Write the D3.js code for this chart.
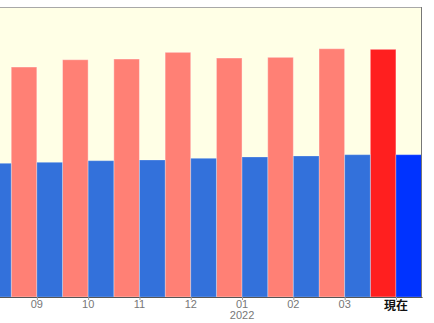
<!DOCTYPE html>
<html><head><meta charset="utf-8">
<script src="https://cdn.jsdelivr.net/npm/d3@7"></script>
<style>html,body{margin:0;padding:0;background:#fff;}svg{display:block;}</style>
</head><body>
<div id="chart"></div>
<script>
const categories = ["08","09","10","11","12","01","02","03","現在"];
const redValues  = [null, 230, 237.3, 238, 244.7, 239, 239.7, 248.3, 247.7];
const blueValues = [133.7, 134.7, 136.3, 137, 138.7, 140, 141, 142.3, 142.3];
const subLabels  = {"01": "2022"};

const W = 434, H = 323;
const plot = {left: 0, right: 421, top: 7, bottom: 297};

const svg = d3.select("#chart").append("svg").attr("width", W).attr("height", H);

const x = d3.scaleBand().domain(categories).range([421.6 - 51.3 * 9, 421.6]).padding(0);
const y = d3.scaleLinear().domain([0, 290]).range([plot.bottom, plot.top]);

svg.append("defs").append("clipPath").attr("id", "clip")
  .append("rect").attr("x", plot.left).attr("y", plot.top)
  .attr("width", plot.right - plot.left).attr("height", plot.bottom - plot.top);

svg.append("rect").attr("x", plot.left).attr("y", plot.top)
  .attr("width", plot.right - plot.left).attr("height", plot.bottom - plot.top)
  .attr("fill", "#FFFFE6");

const g = svg.append("g").attr("clip-path", "url(#clip)");
const half = x.bandwidth() / 2;
const last = categories[categories.length - 1];

g.selectAll("rect.red").data(categories.map((c, i) => ({c, v: redValues[i]})).filter(d => d.v != null))
  .enter().append("rect").attr("class", "red")
  .attr("x", d => x(d.c)).attr("width", half)
  .attr("y", d => y(d.v)).attr("height", d => y(0) - y(d.v))
  .attr("fill", d => d.c === last ? "#FF1F1F" : "#FF8075")
  .attr("stroke", "rgba(255,255,255,0.4)").attr("stroke-width", 1);

g.selectAll("rect.blue").data(categories.map((c, i) => ({c, v: blueValues[i]})).filter(d => d.v != null))
  .enter().append("rect").attr("class", "blue")
  .attr("x", d => x(d.c) + half).attr("width", half)
  .attr("y", d => y(d.v)).attr("height", d => y(0) - y(d.v))
  .attr("fill", d => d.c === last ? "#0033FF" : "#3371DB")
  .attr("stroke", "rgba(255,255,255,0.25)").attr("stroke-width", 1);

// borders
svg.append("line").attr("x1", plot.left).attr("x2", plot.right + 0.5)
  .attr("y1", plot.top + 0.5).attr("y2", plot.top + 0.5).attr("stroke", "#A8A8A8");
svg.append("line").attr("x1", plot.right + 0.5).attr("x2", plot.right + 0.5)
  .attr("y1", plot.top).attr("y2", plot.bottom).attr("stroke", "#777");

// x axis
const axisCats = categories.slice(1);
const xAxis = d3.axisBottom(x).tickValues(axisCats).tickSize(3).tickSizeOuter(0).tickFormat("");
const ax = svg.append("g").attr("transform", `translate(0.5,${plot.bottom})`);
ax.call(xAxis);
ax.select(".domain").attr("stroke", "#555");
ax.selectAll(".tick line").attr("stroke", "#999");

const labels = svg.append("g");
axisCats.forEach(c => {
  const cx = x(c) + half;
  const isLast = c === last;
  labels.append("text").attr("x", cx).attr("y", isLast ? 309.5 : 308)
    .attr("text-anchor", "middle")
    .attr("font-family", isLast ? "'Noto Sans CJK JP', sans-serif" : "'Liberation Sans Narrow', 'Liberation Sans', sans-serif")
    .attr("font-size", isLast ? 12 : 11)
    .attr("font-weight", isLast ? "bold" : "normal")
    .attr("fill", isLast ? "#111" : "#777")
    .text(c);
  if (subLabels[c]) {
    labels.append("text").attr("x", cx).attr("y", 318.5)
      .attr("text-anchor", "middle")
      .attr("font-family", "'Liberation Sans Narrow', 'Liberation Sans', sans-serif")
      .attr("font-size", 11).attr("fill", "#777").text(subLabels[c]);
  }
});
</script>
</body></html>
